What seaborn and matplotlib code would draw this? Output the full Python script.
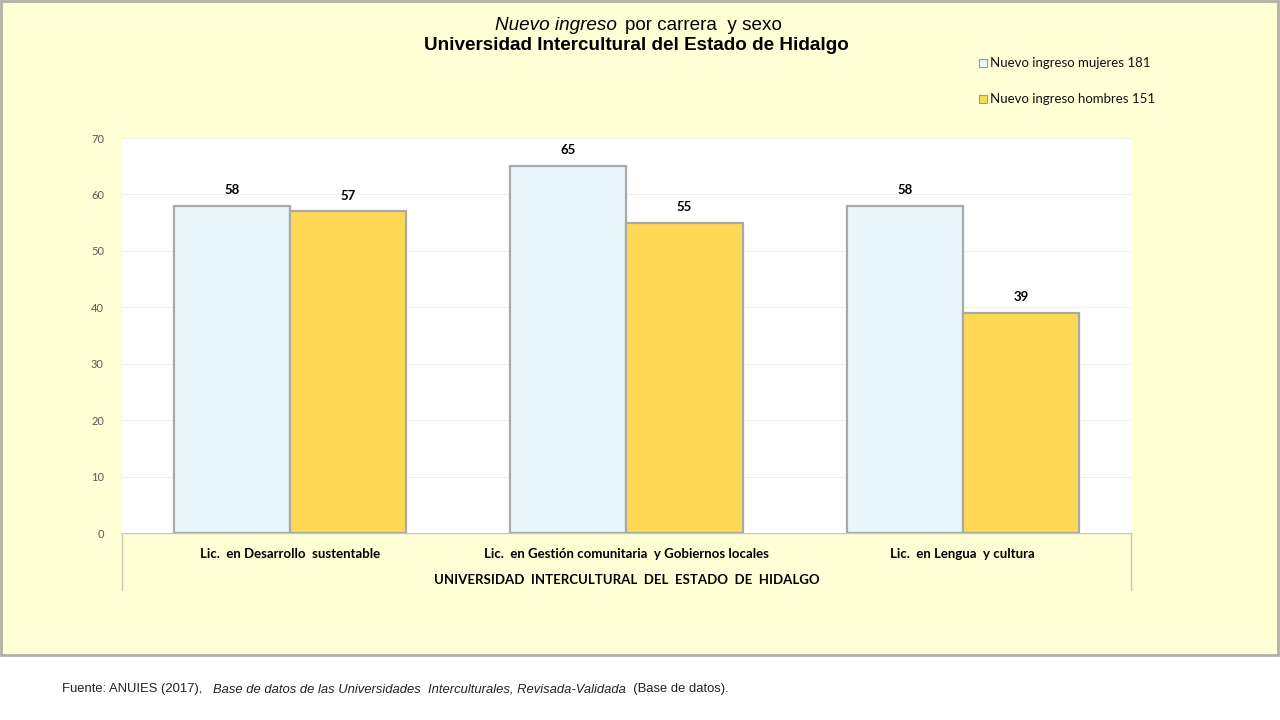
import pandas as pd
import numpy as np
import seaborn as sns
import matplotlib
matplotlib.use("Agg")
import matplotlib.pyplot as plt
from matplotlib.patches import Rectangle
from matplotlib.lines import Line2D

carreras = ["Lic.  en Desarrollo  sustentable",
            "Lic.  en Gestión comunitaria  y Gobiernos locales",
            "Lic.  en Lengua  y cultura"]
mujeres = [58, 65, 58]
hombres = [57, 55, 39]
series = ["Nuevo ingreso mujeres 181", "Nuevo ingreso hombres 151"]
colores = ["#EAF6FD", "#FFD955"]
y_ticks = [0, 10, 20, 30, 40, 50, 60, 70]

df = pd.DataFrame({
    "Carrera": carreras * 2,
    "Serie": [series[0]] * 3 + [series[1]] * 3,
    "Valor": mujeres + hombres,
})

sns.set_theme(style="white")
plt.rcParams['font.family'] = ['Lato', 'DejaVu Sans']
plt.rcParams['text.color'] = 'black'

fig = plt.figure(figsize=(12.8, 7.2), dpi=100, facecolor="white")
# yellow panel behind everything
fig.patches.append(Rectangle((0.001, 1 - 655 / 720), 1277 / 1280, 654 / 720,
                             transform=fig.transFigure, facecolor="#FFFFD5",
                             edgecolor="#B0B0A8", linewidth=2, zorder=-5))

ax = fig.add_axes([122 / 1280, 1 - 533 / 720, (1131 - 122) / 1280, (533 - 138) / 720])
ax.set_zorder(2)
ax.set_facecolor("white")
sns.barplot(data=df, x="Carrera", y="Valor", hue="Serie", palette=colores,
            width=0.69, edgecolor="#A9A9A9", linewidth=1.6, ax=ax, legend=False,
            saturation=1)

ax.set_ylim(0, 70)
ax.set_yticks(y_ticks)
ax.set_yticklabels([str(t) for t in y_ticks], fontsize=8, color="#595959")
ax.tick_params(axis="y", length=0, pad=13)
ax.yaxis.grid(True, color="#EEEEEE", linewidth=0.8)
ax.set_axisbelow(True)
for s in ax.spines.values():
    s.set_visible(False)
ax.set_xlabel("")
ax.set_ylabel("")
ax.set_xticks(range(3))
ax.set_xticklabels(carreras, fontsize=9.5, fontweight="bold", color="black")
ax.tick_params(axis="x", length=0, pad=11)

for cont in ax.containers:
    ax.bar_label(cont, fmt="%d", padding=7, fontsize=9.5, fontweight="bold", color="black")

# category box below axis
x0, x1 = 122 / 1280, 1131 / 1280
yb0, yb1 = 1 - 533 / 720, 1 - 590 / 720
fig.add_artist(Line2D([x0, x0], [yb0, yb1], color="#C8C8B0", linewidth=1))
fig.add_artist(Line2D([x1, x1], [yb0, yb1], color="#C8C8B0", linewidth=1))
fig.add_artist(Line2D([x0, x1], [yb0, yb0], color="#C8C8B0", linewidth=1))
fig.text((x0 + x1) / 2, 1 - 580 / 720, "UNIVERSIDAD  INTERCULTURAL  DEL  ESTADO  DE  HIDALGO",
         ha="center", va="center", fontsize=9.5, fontweight="bold")

# title
tfam = ["Liberation Sans", "DejaVu Sans"]
fig.text(0.482, 1 - 25 / 720, "Nuevo ingreso", ha="right", va="center", fontsize=13.6,
         fontstyle="italic", family=tfam)
fig.text(0.488, 1 - 25 / 720, "por carrera  y sexo", ha="left", va="center", fontsize=13.6,
         family=tfam)
fig.text(0.4975, 1 - 46 / 720, "Universidad Intercultural del Estado de Hidalgo",
         ha="center", va="center", fontsize=13.6, fontweight="bold", family=tfam)

# legend
for i, (lab, col) in enumerate(zip(series, colores)):
    yy = 1 - (63 + 36 * i) / 720
    fig.patches.append(Rectangle((979 / 1280, yy - 4 / 720), 8 / 1280, 8 / 720,
                                 transform=fig.transFigure, facecolor=col,
                                 edgecolor="#999999", linewidth=0.8))
    fig.text(990 / 1280, yy, lab, ha="left", va="center", fontsize=9.5, color="#111111")

# footer, pieces placed one after another
renderer = fig.canvas.get_renderer()
ffam = ["Liberation Sans", "DejaVu Sans"]
pieces = [("Fuente: ANUIES (2017),   ", "normal"),
          ("Base de datos de las Universidades  Interculturales, Revisada-Validada", "italic"),
          ("  (Base de datos).", "normal")]
xpos = 62
for txt, st in pieces:
    t = fig.text(xpos / 1280, 1 - 689 / 720, txt, ha="left", va="center", fontsize=9.4,
                 fontstyle=st, family=ffam, color="#222222")
    xpos += t.get_window_extent(renderer).width

fig.savefig("out.png", dpi=100, facecolor=fig.get_facecolor())
